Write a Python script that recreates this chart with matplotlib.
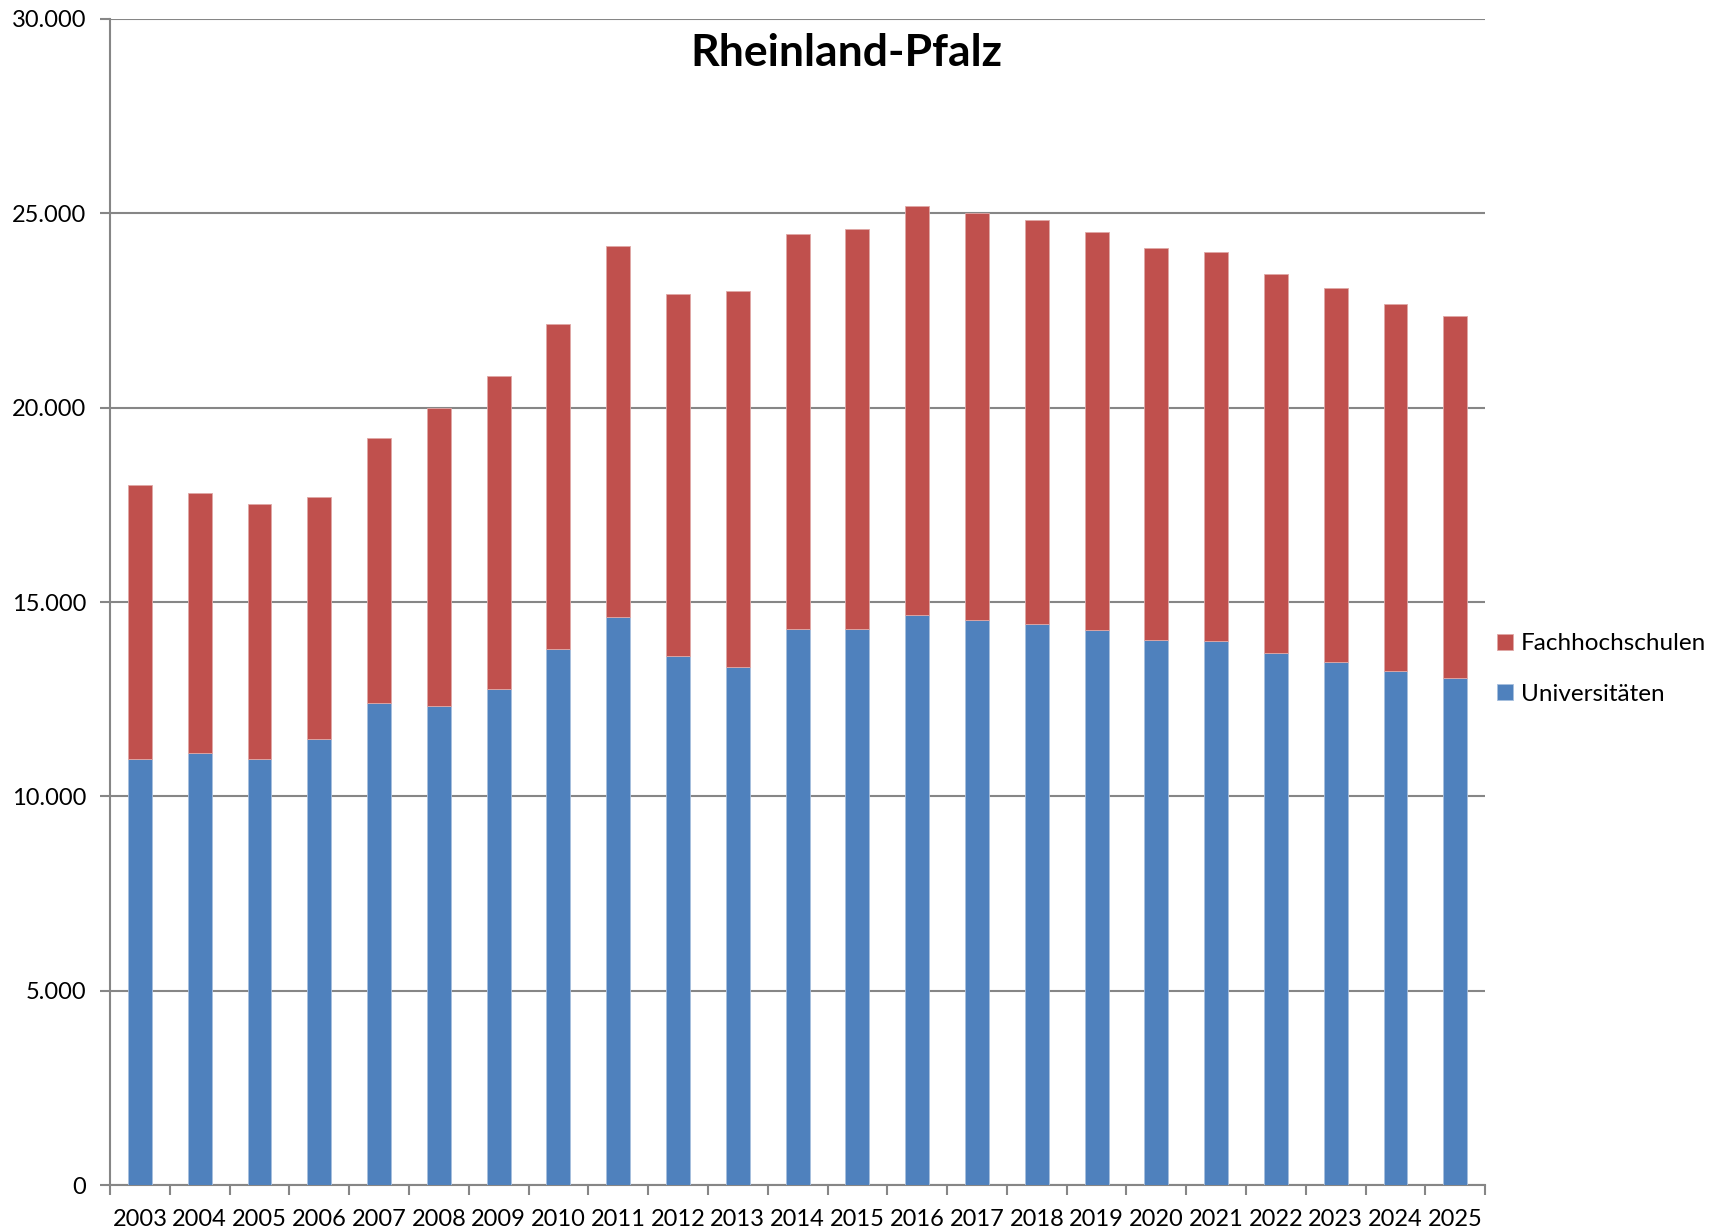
import numpy as np
import matplotlib.pyplot as plt
from matplotlib.ticker import FuncFormatter, FixedLocator

years = [str(y) for y in range(2003, 2026)]
universitaeten = [10950, 11120, 10950, 11480, 12390, 12320, 12750, 13780, 14620, 13620,
                  13320, 14300, 14310, 14660, 14540, 14430, 14270, 14030, 13990, 13680,
                  13450, 13220, 13040]
gesamt = [18020, 17800, 17520, 17710, 19210, 20000, 20820, 22150, 24170, 22920,
          23010, 24480, 24590, 25200, 25010, 24820, 24530, 24100, 24000, 23450,
          23070, 22670, 22350]
fachhochschulen = [g - u for g, u in zip(gesamt, universitaeten)]

plt.rcParams['font.family'] = ['Lato', 'DejaVu Sans']
grey = '#868686'

fig = plt.figure(figsize=(17.27, 12.32), dpi=100)
ax = fig.add_axes([0.0637, 0.0381, 0.7963, 0.9465])

x = np.arange(len(years))
b1 = ax.bar(x, universitaeten, width=0.4, color='#4F81BD', edgecolor='#A7BFDE',
            linewidth=0.6, label='Universitäten', zorder=3)
b2 = ax.bar(x, fachhochschulen, width=0.4, bottom=universitaeten, color='#C0504D',
            edgecolor='#E0A8A6', linewidth=0.6, label='Fachhochschulen', zorder=3)

ax.set_xlim(-0.5, len(years) - 0.5)
ax.set_ylim(0, 30000)
ax.set_yticks(range(0, 30001, 5000))
ax.yaxis.set_major_formatter(FuncFormatter(lambda v, p: f'{int(v):,}'.replace(',', '.')))
ax.yaxis.grid(True, color=grey, linewidth=1.5, zorder=0)

ax.set_xticks(x)
ax.set_xticklabels(years)
ax.xaxis.set_minor_locator(FixedLocator(np.arange(-0.5, len(years), 1.0)))
ax.tick_params(axis='x', which='major', length=0, pad=17, labelsize=17)
ax.tick_params(axis='x', which='minor', length=7, color=grey, width=1.5)
ax.tick_params(axis='y', length=7, color=grey, width=1.5, labelsize=17, pad=10)

for s in ['top', 'right']:
    ax.spines[s].set_visible(False)
for s in ['left', 'bottom']:
    ax.spines[s].set_color(grey)
    ax.spines[s].set_linewidth(1.5)

fig.text(0.490, 0.957, 'Rheinland-Pfalz', ha='center', va='center',
         fontsize=32, fontweight='bold')

fig.legend([b2, b1], ['Fachhochschulen', 'Universitäten'], loc='center left',
           bbox_to_anchor=(0.854, 0.457), frameon=False, fontsize=17.5,
           handlelength=0.65, handleheight=0.65, handletextpad=0.35, labelspacing=1.2)

plt.savefig('out.png', dpi=100)
